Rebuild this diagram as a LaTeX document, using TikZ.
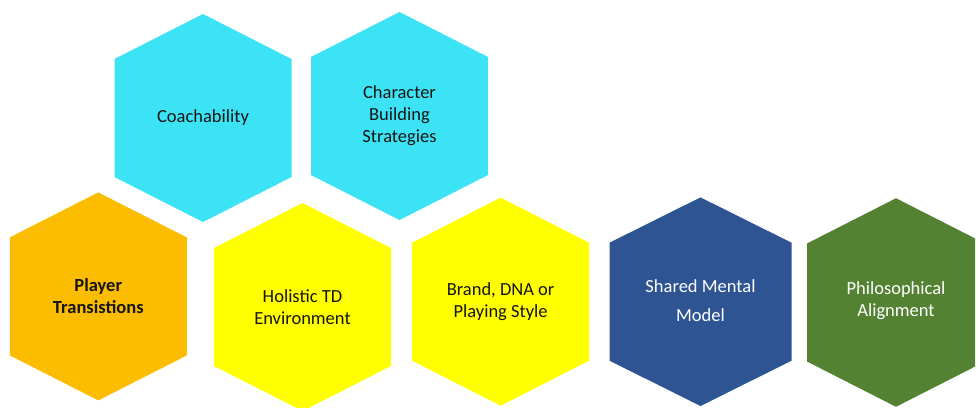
\documentclass[tikz,border=0pt]{standalone}
\usepackage{fontspec}
\setmainfont{Carlito}
\definecolor{hexcyan}{HTML}{3CE3F5}
\definecolor{hexorange}{HTML}{FCBD00}
\definecolor{hexyellow}{HTML}{FFFF00}
\definecolor{hexblue}{HTML}{2E5493}
\definecolor{hexgreen}{HTML}{548233}
\definecolor{hexdark}{HTML}{151515}
\newcommand{\myhexagon}[5]{% cx, cy, half-width, half-height, colour
  \fill[#5] (#1,#2-#4) -- (#1+#3,#2-59) -- (#1+#3,#2+59) -- (#1,#2+#4)
    -- (#1-#3,#2+59) -- (#1-#3,#2-59) -- cycle;}
\tikzset{
  hexlabel/.style={align=center, font=\fontsize{18.5}{22}\selectfont, text=hexdark, inner sep=0pt},
  hexlabelw/.style={hexlabel, text=white}
}
\begin{document}
\begin{tikzpicture}[x=1pt,y=-1pt]
\useasboundingbox (0,0) rectangle (977,407);
\fill[white] (0,0) rectangle (977,407);
\begin{scope}
\clip (0,0) rectangle (975,407);
\myhexagon{203}{118}{88.5}{104}{hexcyan}
\myhexagon{399.5}{116}{88.5}{104}{hexcyan}
\myhexagon{98.3}{296.4}{88.5}{104}{hexorange}
\myhexagon{302.5}{307}{88.5}{104}{hexyellow}
\myhexagon{500.6}{301.7}{88.5}{104}{hexyellow}
\myhexagon{700.5}{301.7}{91}{104.3}{hexblue}
\myhexagon{896}{302.5}{89}{104.3}{hexgreen}
\end{scope}
\node[hexlabel] (coach) at (203,118) {Coachability};
\node[hexlabel] (charb) at (399.5,116) {Character\\Building\\Strategies};
\node[hexlabel, font=\fontsize{18.5}{22}\selectfont\bfseries] (player) at (98.3,296) {Player\\Transistions};
\node[hexlabel] (holistic) at (302.5,307) {Holistic TD\\Environment};
\node[hexlabel] (brand) at (500.6,301.5) {Brand, DNA or\\Playing Style};
\node[hexlabelw, font=\fontsize{18.5}{29}\selectfont] (shared) at (700.5,301) {Shared Mental\\Model};
\node[hexlabelw] (philo) at (896,301) {Philosophical\\Alignment};
\end{tikzpicture}
\end{document}
